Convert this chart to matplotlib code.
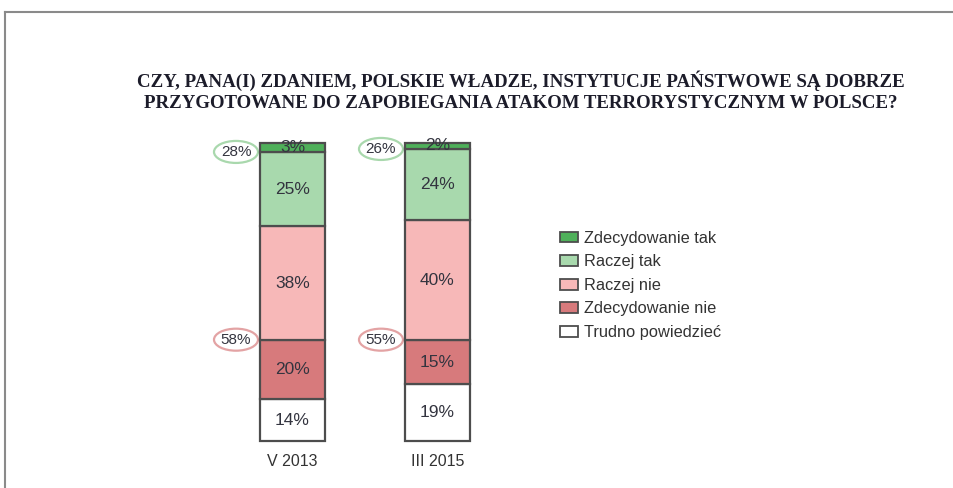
import matplotlib
matplotlib.use("Agg")
import matplotlib.pyplot as plt
from matplotlib.patches import Ellipse, Patch
import numpy as np

# data
periods = ["V 2013", "III 2015"]
answers = ["Trudno powiedzieć", "Zdecydowanie nie", "Raczej nie", "Raczej tak", "Zdecydowanie tak"]
trudno = [14, 19]
zdec_nie = [20, 15]
raczej_nie = [38, 40]
raczej_tak = [25, 24]
zdec_tak = [3, 2]
total_tak = [28, 26]
total_nie = [58, 55]

colors = ["#ffffff", "#d77a7c", "#f7b8b8", "#a8d9ad", "#4fb05a"]
title = ("CZY, PANA(I) ZDANIEM, POLSKIE WŁADZE, INSTYTUCJE PAŃSTWOWE SĄ DOBRZE\n"
         "PRZYGOTOWANE DO ZAPOBIEGANIA ATAKOM TERRORYSTYCZNYM W POLSCE?")

W, H = 954, 488
fig = plt.figure(figsize=(W / 100, H / 100), dpi=100)
plt.rcParams['font.family'] = ['Liberation Sans', 'DejaVu Sans']

# axes covers the bar area (pixels 200..530 wide, 143..441 tall)
ax = fig.add_axes([200 / W, (H - 441) / H, 330 / W, (441 - 143) / H])
px_x = 145.0          # pixels per x unit
px_y = (441 - 143) / 100.0
ax.set_xlim(-(292.5 - 200) / px_x, 1 + (530 - 437.5) / px_x)
ax.set_ylim(0, 100)
ax.axis("off")

x = np.arange(len(periods))
bw = 65 / px_x
series = [trudno, zdec_nie, raczej_nie, raczej_tak, zdec_tak]
text_col = "#33343f"
bottom = np.zeros(len(periods))
for vals, col in zip(series, colors):
    vals = np.array(vals, dtype=float)
    ax.bar(x, vals, bw, bottom=bottom, color=col, edgecolor="#4d4d4d",
           linewidth=1.6, clip_on=False, zorder=2)
    for xi, b, v in zip(x, bottom, vals):
        ax.text(xi, b + v / 2, f"{int(v)}%", ha="center", va="center",
                fontsize=12.5, color=text_col, zorder=3)
    bottom += vals

# category labels
for xi, lab in zip(x, periods):
    ax.text(xi, -7, lab, ha="center", va="center", fontsize=11.5, color="#333333")

# circled totals at the left of each bar
ew, eh = 44 / px_x, 22 / px_y
for i, xi in enumerate(x):
    ex = xi - (292.5 - 236) / px_x
    y_tak = trudno[i] + zdec_nie[i] + raczej_nie[i] + raczej_tak[i]
    y_nie = trudno[i] + zdec_nie[i]
    for yc, lab, ec in [(y_tak, f"{total_tak[i]}%", "#a9d8ad"),
                        (y_nie, f"{total_nie[i]}%", "#e3a3a4")]:
        ax.add_patch(Ellipse((ex, yc), ew, eh, facecolor="white", edgecolor=ec,
                             linewidth=1.6, clip_on=False, zorder=1))
        ax.text(ex, yc, lab, ha="center", va="center", fontsize=11,
                color=text_col, zorder=4)

# legend
handles = [Patch(facecolor=c, edgecolor="#4d4d4d", linewidth=1.3)
           for c in colors[::-1]]
fig.legend(handles, answers[::-1], loc="upper left",
           bbox_to_anchor=(545 / W, 1 - 216 / H), frameon=False,
           fontsize=11.8, handlelength=1.1, handleheight=0.65,
           handletextpad=0.35, labelspacing=0.52, labelcolor="#333333")

# title
fig.text(521 / W, 1 - 91 / H, title, ha="center", va="center",
         fontsize=13.6, fontweight="bold", family=["Liberation Serif", "DejaVu Serif"],
         color="#1c1c2a", linespacing=1.3)

# page frame
fig.add_artist(plt.Line2D([5 / W, 1], [1 - 12 / H, 1 - 12 / H], color="#8a8a8a",
                          linewidth=1.5, transform=fig.transFigure))
fig.add_artist(plt.Line2D([5 / W, 5 / W], [0, 1 - 12 / H], color="#8a8a8a",
                          linewidth=1.5, transform=fig.transFigure))

fig.savefig("out.png", dpi=100)
